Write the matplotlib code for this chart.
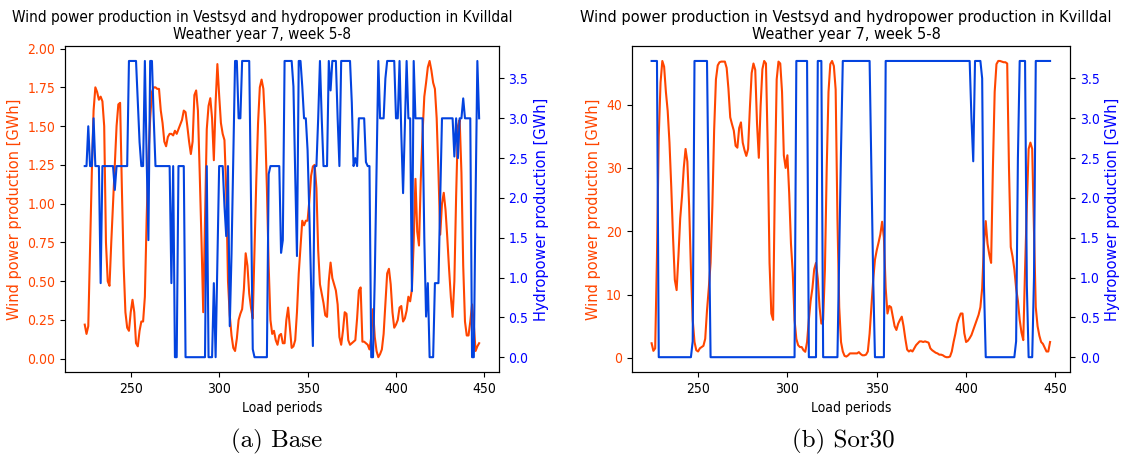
import numpy as np
import matplotlib.pyplot as plt

# Police un peu condensee comme sur la figure d'origine
plt.rcParams['font.stretch'] = 'condensed'
plt.rcParams['font.size'] = 9.5

# Load periods 224..447 (weather year 7, week 5-8)
periodes = list(range(224, 448))

# Base case
vent_base = [
    0.22, 0.16, 0.21, 0.70, 1.20, 1.60, 1.75, 1.72, 1.67, 1.69,
    1.66, 1.50, 0.75, 0.50, 0.47, 0.75, 1.00, 1.25, 1.50, 1.64,
    1.65, 1.10, 0.60, 0.30, 0.20, 0.18, 0.30, 0.38, 0.30, 0.10,
    0.08, 0.18, 0.24, 0.24, 0.40, 0.90, 1.30, 1.55, 1.72, 1.75,
    1.75, 1.74, 1.74, 1.60, 1.52, 1.40, 1.37, 1.43, 1.45, 1.45,
    1.44, 1.47, 1.45, 1.48, 1.51, 1.54, 1.60, 1.59, 1.50, 1.40,
    1.32, 1.40, 1.70, 1.73, 1.60, 1.20, 0.77, 0.30, 0.90, 1.48,
    1.63, 1.68, 1.55, 1.28, 1.65, 1.90, 1.70, 1.52, 1.45, 1.41,
    1.09, 0.50, 0.28, 0.15, 0.07, 0.05, 0.13, 0.25, 0.29, 0.32,
    0.45, 0.68, 0.60, 0.42, 0.33, 0.26, 0.70, 1.15, 1.52, 1.75,
    1.80, 1.74, 1.50, 1.10, 0.60, 0.25, 0.16, 0.18, 0.12, 0.09,
    0.15, 0.16, 0.10, 0.10, 0.25, 0.33, 0.20, 0.07, 0.08, 0.12,
    0.30, 0.55, 0.72, 0.89, 0.86, 0.89, 0.89, 1.02, 1.18, 1.24,
    1.25, 1.10, 0.70, 0.48, 0.42, 0.36, 0.28, 0.27, 0.50, 0.62,
    0.52, 0.48, 0.44, 0.35, 0.14, 0.09, 0.18, 0.30, 0.29, 0.12,
    0.09, 0.10, 0.11, 0.12, 0.26, 0.44, 0.46, 0.11, 0.11, 0.10,
    0.09, 0.06, 0.14, 0.32, 0.14, 0.05, 0.01, 0.03, 0.06, 0.16,
    0.36, 0.55, 0.58, 0.48, 0.30, 0.20, 0.22, 0.25, 0.33, 0.34,
    0.24, 0.26, 0.31, 0.40, 0.37, 0.45, 0.75, 1.16, 0.82, 0.73,
    1.15, 1.45, 1.69, 1.78, 1.88, 1.92, 1.86, 1.78, 1.74, 1.55,
    1.20, 0.80, 1.00, 1.07, 0.96, 0.78, 0.58, 0.40, 0.27, 0.50,
    1.05, 1.50, 1.54, 1.20, 0.60, 0.24, 0.15, 0.15, 0.24, 0.35,
    0.22, 0.05, 0.08, 0.10,
]
hydro_base = [
    2.4, 2.4, 2.9, 2.4, 2.4, 3.0, 2.4, 2.4, 2.4, 0.93,
    2.4, 2.4, 2.4, 2.4, 2.4, 2.4, 2.4, 2.1, 2.4, 2.4,
    2.4, 2.4, 2.4, 2.4, 2.4, 3.72, 3.72, 3.72, 3.72, 3.72,
    3.2, 2.7, 2.4, 2.4, 3.72, 2.5, 1.47, 3.72, 3.72, 3.0,
    2.4, 2.4, 2.4, 2.4, 2.4, 2.4, 2.4, 2.4, 2.4, 0.93,
    2.4, 0.0, 0.0, 2.4, 2.4, 2.4, 2.4, 0.0, 0.0, 0.0,
    0.0, 0.0, 0.0, 0.0, 0.0, 0.0, 0.0, 0.0, 0.0, 2.4,
    0.0, 0.0, 0.0, 0.93, 0.0, 1.2, 2.4, 2.4, 2.4, 1.9,
    1.52, 2.4, 0.39, 1.3, 2.5, 3.72, 3.72, 3.0, 3.0, 3.72,
    3.72, 3.72, 3.72, 3.72, 2.0, 0.1, 0.0, 0.0, 0.0, 0.0,
    0.0, 0.0, 0.0, 0.0, 2.3, 2.4, 2.4, 2.4, 2.4, 2.4,
    2.4, 1.31, 1.47, 3.72, 3.72, 3.72, 3.72, 3.72, 3.4, 2.3,
    1.27, 3.72, 3.72, 3.4, 3.0, 3.0, 2.6, 1.8, 0.9, 0.14,
    2.4, 2.4, 3.0, 3.72, 3.0, 2.4, 2.4, 2.4, 3.72, 3.35,
    3.72, 3.72, 3.72, 3.0, 2.4, 3.72, 3.72, 3.72, 3.72, 3.72,
    3.72, 3.2, 2.4, 2.5, 2.4, 3.0, 3.0, 3.0, 3.0, 2.45,
    2.4, 2.4, 0.0, 0.0, 1.0, 2.4, 3.72, 3.0, 3.0, 3.0,
    3.5, 3.72, 3.72, 3.72, 3.72, 3.72, 3.0, 3.0, 3.72, 2.8,
    2.06, 2.9, 3.72, 3.0, 3.0, 0.83, 3.72, 3.0, 3.0, 3.0,
    3.0, 3.0, 1.5, 0.51, 0.93, 0.0, 0.0, 0.0, 0.93, 0.93,
    0.93, 2.0, 3.0, 3.0, 3.0, 3.0, 3.0, 3.0, 3.0, 2.52,
    3.0, 2.5, 3.0, 3.0, 3.25, 3.0, 3.0, 3.0, 3.0, 0.0,
    0.0, 2.0, 3.72, 3.0,
]

# Sor30 case
vent_sor30 = [
    2.3, 1.1, 1.5, 16, 35, 43.5, 46.9, 46, 42, 39,
    34, 27, 19, 12.3, 10.7, 16, 22, 25.5, 30, 33,
    31, 24, 14, 6, 2.5, 1.2, 1.0, 1.5, 1.7, 1.9,
    3.0, 7.5, 11, 15, 24, 36, 44, 46.2, 46.7, 46.8,
    46.8, 46.8, 45.8, 42.5, 38, 36.9, 35.9, 33.5, 33.2, 36.3,
    37.2, 34, 32.8, 31.9, 33, 39.5, 45, 46.5, 45.5, 37,
    31.6, 39.8, 45.6, 46.9, 46.5, 33, 15, 7, 6, 28,
    44, 46.8, 46.5, 42, 32, 30, 32, 26, 18, 13.4,
    6, 3, 2, 1.7, 1.7, 1.2, 0.95, 2.5, 6, 9,
    11, 14, 15, 12.5, 8, 5.4, 6, 14, 30, 42,
    46.4, 46.9, 46.1, 42.4, 22, 8, 2.5, 1.0, 0.3, 0.2,
    0.4, 0.7, 0.7, 0.7, 0.7, 0.7, 0.9, 0.6, 0.4, 0.4,
    0.5, 1.0, 3.8, 8, 12.3, 15.5, 17, 18.2, 19.5, 21.5,
    19, 11, 7.0, 8.2, 8, 6.5, 5, 4.4, 5.4, 6,
    6.5, 5.0, 3, 1.3, 1.0, 1.2, 1.0, 1.5, 2.0, 2.3,
    2.6, 2.6, 2.5, 2.6, 2.5, 2.4, 1.5, 1.2, 1.0, 0.8,
    0.7, 0.5, 0.5, 0.4, 0.2, 0.1, 0.1, 0.2, 1.0, 2.5,
    3.8, 5.4, 6.3, 7.0, 7.0, 3.9, 2.5, 2.7, 3.1, 3.6,
    4.4, 5.2, 6.0, 6.8, 8.0, 11, 18, 21.6, 18, 16.3,
    15, 30, 42, 46.4, 46.9, 46.9, 46.8, 46.7, 46.7, 46.5,
    30, 17.5, 16, 14, 11, 9, 6, 4, 2.8, 14,
    24, 33, 34, 33, 20, 8, 5, 3.5, 2.5, 2.2,
    1.6, 1.0, 1.0, 2.5,
]
hydro_sor30 = [
    3.72, 3.72, 3.72, 3.72, 0.0, 0.0, 0.0, 0.0, 0.0, 0.0,
    0.0, 0.0, 0.0, 0.0, 0.0, 0.0, 0.0, 0.0, 0.0, 0.0,
    0.0, 0.0, 0.0, 0.2, 3.72, 3.72, 3.72, 3.72, 3.72, 3.72,
    3.72, 3.72, 1.9, 0.0, 0.0, 0.0, 0.0, 0.0, 0.0, 0.0,
    0.0, 0.0, 0.0, 0.0, 0.0, 0.0, 0.0, 0.0, 0.0, 0.0,
    0.0, 0.0, 0.0, 0.0, 0.0, 0.0, 0.0, 0.0, 0.0, 0.0,
    0.0, 0.0, 0.0, 0.0, 0.0, 0.0, 0.0, 0.0, 0.0, 0.0,
    0.0, 0.0, 0.0, 0.0, 0.0, 0.0, 0.0, 0.0, 0.0, 0.0,
    0.0, 3.72, 3.72, 3.72, 3.72, 3.72, 3.72, 3.72, 0.0, 0.0,
    0.0, 0.0, 0.0, 3.72, 3.72, 3.72, 0.0, 0.0, 0.0, 0.0,
    0.0, 0.0, 0.0, 0.0, 0.0, 1.3, 2.6, 3.72, 3.72, 3.72,
    3.72, 3.72, 3.72, 3.72, 3.72, 3.72, 3.72, 3.72, 3.72, 3.72,
    3.72, 3.72, 3.72, 2.4, 1.0, 0.0, 0.0, 0.0, 0.0, 0.0,
    0.0, 3.72, 3.72, 3.72, 3.72, 3.72, 3.72, 3.72, 3.72, 3.72,
    3.72, 3.72, 3.72, 3.72, 3.72, 3.72, 3.72, 3.72, 3.72, 3.72,
    3.72, 3.72, 3.72, 3.72, 3.72, 3.72, 3.72, 3.72, 3.72, 3.72,
    3.72, 3.72, 3.72, 3.72, 3.72, 3.72, 3.72, 3.72, 3.72, 3.72,
    3.72, 3.72, 3.72, 3.72, 3.72, 3.72, 3.72, 3.72, 3.72, 3.0,
    2.46, 3.72, 3.72, 3.72, 3.72, 3.5, 0.9, 0.0, 0.0, 0.0,
    0.0, 0.0, 0.0, 0.0, 0.0, 0.0, 0.0, 0.0, 0.0, 0.0,
    0.0, 0.0, 0.0, 0.0, 0.2, 2.5, 3.72, 3.72, 3.72, 3.72,
    0.9, 0.0, 0.0, 0.0, 1.0, 3.72, 3.72, 3.72, 3.72, 3.72,
    3.72, 3.72, 3.72, 3.72,
]

titre = 'Wind power production in Vestsyd and hydropower production in Kvilldal\nWeather year 7, week 5-8'
legendes = ['(a) Base', '(b) Sor30']
couleur_vent = 'orangered'
couleur_hydro = '#0343df'

fig = plt.figure(figsize=(11.21, 4.57), dpi=100)
positions = [[0.058, 0.186, 0.387, 0.713], [0.5635, 0.186, 0.391, 0.713]]
donnees = [(vent_base, hydro_base), (vent_sor30, hydro_sor30)]
# le titre n'est pas tout a fait centre sur les axes dans l'original
titre_x = [0.454, 0.489]
titre_taille = [11, 11.7]

for i, (pos, (vent, hydro)) in enumerate(zip(positions, donnees)):
    ax = fig.add_axes(pos)
    ax.plot(periodes, vent, color=couleur_vent, lw=1.5)
    ax.set_xlabel('Load periods', fontsize=10)
    # les textes verticaux ne sont pas ecrases dans l'original
    ax.set_ylabel('Wind power production [GWh]', color=couleur_vent,
                  fontsize=10.5, fontstretch='normal', labelpad=4)
    ax.tick_params(axis='both', labelsize=10)
    ax.tick_params(axis='y', labelcolor=couleur_vent)
    ax.set_title(titre, fontsize=titre_taille[i], pad=5, x=titre_x[i])

    ax2 = ax.twinx()
    ax2.plot(periodes, hydro, color=couleur_hydro, lw=1.5)
    ax2.set_ylabel('Hydropower production [GWh]', color='blue',
                   fontsize=10.5, fontstretch='normal', labelpad=4)
    ax2.tick_params(axis='y', labelcolor='blue', labelsize=10)

fig.text(0.247, 0.02, legendes[0], ha='center', fontfamily='cmr10', fontsize=18)
fig.text(0.752, 0.02, legendes[1], ha='center', fontfamily='cmr10', fontsize=18)

plt.savefig('out.png', dpi=100)
